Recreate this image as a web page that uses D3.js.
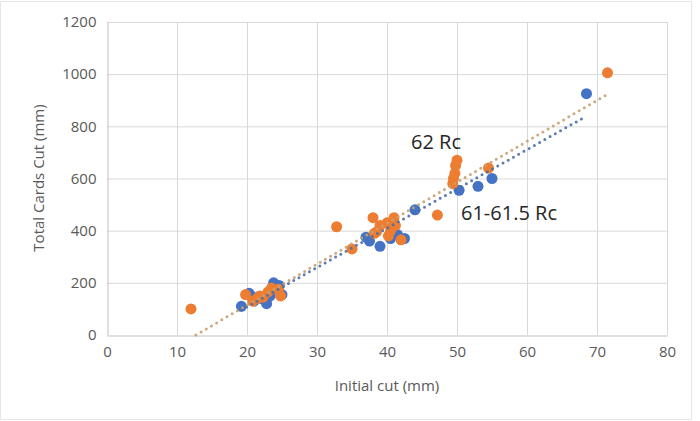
<!DOCTYPE html>
<html><head><meta charset="utf-8">
<script src="https://cdn.jsdelivr.net/npm/d3@7"></script>
<style>body{margin:0;background:#fff}svg{display:block}</style>
</head><body><svg id="c" width="700" height="421"></svg>
<script>
// Data
const blueX = [68.5, 55, 53, 50.3, 44, 42.5, 40.5, 39, 37.5, 37, 41.5, 19.2, 20.3, 21, 22.8, 23.3, 23.8, 24.3, 25, 22, 20.6, 24.6];
const blueY = [925, 600, 570, 555, 480, 370, 370, 340, 360, 375, 385, 110, 160, 130, 120, 150, 200, 180, 155, 140, 150, 190];
const orangeX = [12, 71.5, 54.5, 50, 49.8, 49.7, 49.5, 49.4, 47.2, 32.8, 35, 38, 39, 40, 40.5, 41, 41.2, 40.2, 38.5, 42, 38.2, 19.8, 20.8, 21.5, 22.3, 23, 23.5, 24.8, 21.8, 24.5];
const orangeY = [100, 1005, 640, 670, 650, 620, 600, 580, 460, 415, 330, 450, 420, 430, 400, 450, 420, 380, 395, 365, 390, 155, 130, 140, 145, 165, 180, 150, 150, 175];
const blueTrendX = [19.2, 68.5];
const blueTrendY = [96, 839];
const orangeTrendX = [12.7, 71.3];
const orangeTrendY = [0, 920];
const xTicks = [0, 10, 20, 30, 40, 50, 60, 70, 80];
const yTicks = [0, 200, 400, 600, 800, 1000, 1200];
const labels = [{t: "62 Rc", x: 411, y: 149}, {t: "61-61.5 Rc", x: 461, y: 220}];

const svg = d3.select("#c");
const font = "'Open Sans', 'Liberation Sans', Arial, sans-serif";
svg.append("rect").attr("x", 0.5).attr("y", 1.5).attr("width", 691).attr("height", 418)
  .attr("fill", "#fff").attr("stroke", "#e6e6e6");

const x = d3.scaleLinear().domain([0, 80]).range([107, 667]);
const y = d3.scaleLinear().domain([0, 1200]).range([335, 22]);

// gridlines
svg.append("g").selectAll("line").data(xTicks.slice(1)).join("line")
  .attr("x1", d => x(d) + 0.5).attr("x2", d => x(d) + 0.5).attr("y1", y(1200)).attr("y2", y(0))
  .attr("stroke", "#d9d9d9");
svg.append("g").selectAll("line").data(yTicks.slice(1)).join("line")
  .attr("y1", d => y(d) + 0.5).attr("y2", d => y(d) + 0.5).attr("x1", x(0)).attr("x2", x(80))
  .attr("stroke", "#d9d9d9");

// axes
const xa = svg.append("g").attr("transform", `translate(0,${y(0) + 0.5})`)
  .call(d3.axisBottom(x).tickValues(xTicks).tickFormat(d3.format("d")).tickSize(0).tickPadding(11));
const ya = svg.append("g").attr("transform", `translate(${x(0) + 0.5},0)`)
  .call(d3.axisLeft(y).tickValues(yTicks).tickFormat(d3.format("d")).tickSize(0).tickPadding(11));
[xa, ya].forEach(a => {
  a.select(".domain").attr("stroke", "#bfbfbf");
  a.selectAll("text").attr("font-family", font).attr("font-size", 15).attr("fill", "#595959");
});

// trendlines
function trend(xs, ys, color) {
  svg.append("path").datum(xs.map((v, i) => [v, ys[i]]))
    .attr("d", d3.line().x(d => x(d[0])).y(d => y(d[1])))
    .attr("fill", "none").attr("stroke", color).attr("stroke-width", 3)
    .attr("stroke-dasharray", "0 6").attr("stroke-linecap", "round").attr("opacity", 0.9);
}

// points
function pts(xs, ys, color) {
  svg.append("g").selectAll("circle").data(xs.map((v, i) => [v, ys[i]])).join("circle")
    .attr("cx", d => x(d[0])).attr("cy", d => y(d[1])).attr("r", 5.5).attr("fill", color);
}
pts(blueX, blueY, "#4472C4");
pts(orangeX, orangeY, "#ED7D31");
trend(blueTrendX, blueTrendY, "#4a6fa8");
trend(orangeTrendX, orangeTrendY, "#c8a070");

labels.forEach(l => svg.append("text").attr("x", l.x).attr("y", l.y).text(l.t)
  .attr("font-family", font).attr("font-size", 20).attr("fill", "#262626"));

svg.append("text").attr("x", 387).attr("y", 391).attr("text-anchor", "middle")
  .attr("font-family", font).attr("font-size", 15).attr("fill", "#595959").text("Initial cut (mm)");
svg.append("text").attr("transform", "translate(44,178) rotate(-90)").attr("text-anchor", "middle")
  .attr("font-family", font).attr("font-size", 15).attr("fill", "#595959").text("Total Cards Cut (mm)");
</script></body></html>
